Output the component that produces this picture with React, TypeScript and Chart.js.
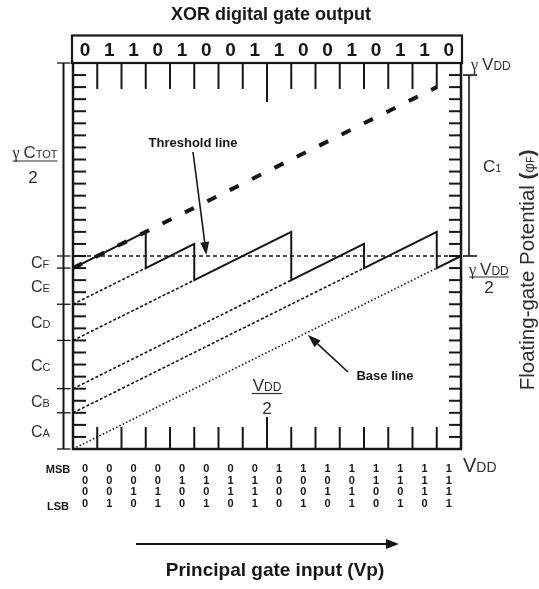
import { useEffect, useRef } from 'react';
import { Chart, registerables } from 'chart.js';

Chart.register(...registerables);

// ---------- data ----------
const X_STEPS = 16; // principal gate input steps (0 .. VDD)
const Y_STEPS = 32; // floating-gate potential steps (0 .. γVDD)
const THRESHOLD = 16; // γVDD/2
const xorOutput = [0, 1, 1, 0, 1, 0, 0, 1, 1, 0, 0, 1, 0, 1, 1, 0];
const bitMSB = [0, 0, 0, 0, 0, 0, 0, 0, 1, 1, 1, 1, 1, 1, 1, 1];
const bit2 = [0, 0, 0, 0, 1, 1, 1, 1, 0, 0, 0, 0, 1, 1, 1, 1];
const bit1 = [0, 0, 1, 1, 0, 0, 1, 1, 0, 0, 1, 1, 0, 0, 1, 1];
const bitLSB = [0, 1, 0, 1, 0, 1, 0, 1, 0, 1, 0, 1, 0, 1, 0, 1];
const bitRows = [bitMSB, bit2, bit1, bitLSB];
const bitRowNames = ['MSB', '', '', 'LSB'];

const capBoundaries = [0, 3, 5, 9, 12, 15, 16, 32];
const capSubscripts = ['A', 'B', 'C', 'D', 'E', 'F'];

const sawX = [0, 3, 3, 5, 5, 9, 9, 12, 12, 15, 15, 16];
const sawY = [15, 18, 15, 17, 14, 18, 14, 17, 15, 18, 15, 16];

const chargeStartY = [3, 5, 9, 12];
const chargeEndX = [12, 9, 5, 3];
const chargeEndY = [15, 14, 14, 15];

const baseLineX = [0, 15];
const baseLineY = [0, 15];

const projectionX = [0, 15];
const projectionY = [15, 30];

const C1_RANGE = [16, 31];
const MID_TICK = 8;

// ---------- helpers ----------
const SANS = '"Liberation Sans", Arial, sans-serif';
const SERIF = '"Liberation Serif", "Times New Roman", serif';
const INK = '#161616';
const SOFT = '#2e2e2e';

type Seg = { t: string; f: string };

function drawRich(ctx: CanvasRenderingContext2D, segs: Seg[], x: number, y: number, align: 'left' | 'center') {
  let w = 0;
  for (const s of segs) {
    ctx.font = s.f;
    w += ctx.measureText(s.t).width;
  }
  let cx = align === 'center' ? x - w / 2 : x;
  const start = cx;
  ctx.textAlign = 'left';
  ctx.textBaseline = 'alphabetic';
  for (const s of segs) {
    ctx.font = s.f;
    ctx.fillText(s.t, cx, y);
    cx += ctx.measureText(s.t).width;
  }
  return { start, end: cx };
}

function line(ctx: CanvasRenderingContext2D, x1: number, y1: number, x2: number, y2: number) {
  ctx.beginPath();
  ctx.moveTo(x1, y1);
  ctx.lineTo(x2, y2);
  ctx.stroke();
}

function arrow(ctx: CanvasRenderingContext2D, x1: number, y1: number, x2: number, y2: number, len = 12, half = 4.5) {
  const a = Math.atan2(y2 - y1, x2 - x1);
  const bx = x2 - len * Math.cos(a);
  const by = y2 - len * Math.sin(a);
  line(ctx, x1, y1, bx, by);
  ctx.beginPath();
  ctx.moveTo(x2, y2);
  ctx.lineTo(bx + half * Math.sin(a), by - half * Math.cos(a));
  ctx.lineTo(bx - half * Math.sin(a), by + half * Math.cos(a));
  ctx.closePath();
  ctx.fill();
}

const pts = (xs: number[], ys: number[]) => xs.map((x, i) => ({ x, y: ys[i] }));

const overlay = {
  id: 'overlay',
  beforeDatasetsDraw(chart: any) {
    const ctx: CanvasRenderingContext2D = chart.ctx;
    const xs = chart.scales.x;
    const ys = chart.scales.y;
    const px = (v: number) => xs.getPixelForValue(v);
    const py = (v: number) => ys.getPixelForValue(v);
    ctx.save();
    ctx.strokeStyle = INK;
    ctx.fillStyle = INK;
    ctx.lineCap = 'butt';

    // ticks
    ctx.lineWidth = 2;
    for (let i = 1; i < Y_STEPS; i++) {
      line(ctx, px(0), py(i), px(0) + 13, py(i));
      line(ctx, px(X_STEPS) - 12, py(i), px(X_STEPS), py(i));
    }
    for (let i = 1; i < X_STEPS; i++) {
      const mid = i === MID_TICK;
      line(ctx, px(i), py(0), px(i), py(0) - (mid ? 32 : 22));
      line(ctx, px(i), py(Y_STEPS), px(i), py(Y_STEPS) + (mid ? 39 : 26));
    }

    // plot frame
    ctx.lineWidth = 2.5;
    ctx.beginPath();
    ctx.moveTo(px(0), py(Y_STEPS));
    ctx.lineTo(px(0), py(0));
    ctx.lineTo(px(X_STEPS), py(0));
    ctx.lineTo(px(X_STEPS), py(Y_STEPS));
    ctx.stroke();

    // digit box
    ctx.lineWidth = 2.2;
    ctx.strokeRect(px(0) - 1, 35.5, px(X_STEPS) - px(0) + 2, py(Y_STEPS) - 35.5);

    // left capacitor bracket
    const bx = px(0) - 9.5;
    ctx.lineWidth = 2;
    line(ctx, bx, py(Y_STEPS), bx, py(0));
    ctx.lineWidth = 1.3;
    for (const b of capBoundaries) line(ctx, bx - 6.5, py(b), bx + 7, py(b));

    // right C1 bracket
    const rx = px(X_STEPS) + 8;
    ctx.lineWidth = 1.6;
    line(ctx, rx, py(C1_RANGE[0]), rx, py(C1_RANGE[1]));
    for (const b of C1_RANGE) line(ctx, rx - 6, py(b), rx + 8, py(b));
    ctx.restore();
  },
  afterDatasetsDraw(chart: any) {
    const ctx: CanvasRenderingContext2D = chart.ctx;
    const xs = chart.scales.x;
    const ys = chart.scales.y;
    const px = (v: number) => xs.getPixelForValue(v);
    const py = (v: number) => ys.getPixelForValue(v);
    ctx.save();
    ctx.fillStyle = INK;
    ctx.strokeStyle = INK;

    // title
    ctx.textAlign = 'center';
    ctx.textBaseline = 'middle';
    ctx.font = `bold 18px ${SANS}`;
    ctx.fillText('XOR digital gate output', 271, 15);

    // XOR output digits
    ctx.font = `bold 19px ${SANS}`;
    xorOutput.forEach((d, i) => ctx.fillText(String(d), px(i + 0.5), 51));

    // input bits
    ctx.font = `bold 11px ${SANS}`;
    const rowY = [469, 481, 492, 504];
    bitRows.forEach((row, r) => {
      row.forEach((b, i) => ctx.fillText(String(b), px(i + 0.5), rowY[r]));
    });
    ctx.font = `bold 11px ${SANS}`;
    ctx.fillText(bitRowNames[0], 58, 470);
    ctx.fillText(bitRowNames[3], 58, 507);

    // bottom arrow + axis title
    ctx.lineWidth = 2;
    arrow(ctx, 136, 544, 399, 544, 13, 5);
    ctx.textAlign = 'center';
    ctx.textBaseline = 'middle';
    ctx.font = `bold 19px ${SANS}`;
    ctx.fillText('Principal gate input (Vp)', 275, 571);

    // annotations
    ctx.font = `bold 13px ${SANS}`;
    ctx.fillText('Threshold line', 193, 143);
    ctx.fillText('Base line', 385, 376);
    ctx.lineWidth = 1.6;
    arrow(ctx, 193, 152, px(5.5), py(THRESHOLD) - 1, 13, 4.5);
    arrow(ctx, 348, 372, 308, 335, 13, 4.5);

    ctx.fillStyle = SOFT;
    ctx.strokeStyle = SOFT;
    // left capacitor labels
    for (let k = 0; k < capSubscripts.length; k++) {
      const mid = (py(capBoundaries[k]) + py(capBoundaries[k + 1])) / 2;
      drawRich(ctx, [
        { t: 'C', f: `16px ${SANS}` },
        { t: capSubscripts[k], f: `11px ${SANS}` },
      ], 31, mid + 6, 'left');
    }
    // γ CTOT / 2
    const ct = drawRich(ctx, [
      { t: 'γ ', f: `16px ${SERIF}` },
      { t: 'C', f: `17px ${SANS}` },
      { t: 'TOT', f: `11px ${SANS}` },
    ], 35, 158, 'center');
    ctx.lineWidth = 1.2;
    line(ctx, ct.start, 161, ct.end, 161);
    ctx.font = `17px ${SANS}`;
    ctx.textAlign = 'center';
    ctx.textBaseline = 'alphabetic';
    ctx.fillText('2', 33, 183);

    // C1
    drawRich(ctx, [
      { t: 'C', f: `17px ${SANS}` },
      { t: '1', f: `11px ${SANS}` },
    ], 483, (py(C1_RANGE[0]) + py(C1_RANGE[1])) / 2 + 6, 'left');

    // γ VDD top right
    drawRich(ctx, [
      { t: 'γ ', f: `16px ${SERIF}` },
      { t: 'V', f: `17px ${SANS}` },
      { t: 'DD', f: `12px ${SANS}` },
    ], 471, py(Y_STEPS) + 7, 'left');

    // γ VDD / 2 right
    const rv = drawRich(ctx, [
      { t: 'γ ', f: `16px ${SERIF}` },
      { t: 'V', f: `17px ${SANS}` },
      { t: 'DD', f: `12px ${SANS}` },
    ], 469, py(THRESHOLD) + 19, 'left');
    line(ctx, rv.start, py(THRESHOLD) + 21, rv.end, py(THRESHOLD) + 21);
    ctx.font = `17px ${SANS}`;
    ctx.textAlign = 'center';
    ctx.fillText('2', (rv.start + rv.end) / 2, py(THRESHOLD) + 37);

    // VDD / 2 mid
    const mv = drawRich(ctx, [
      { t: 'V', f: `17px ${SANS}` },
      { t: 'DD', f: `12px ${SANS}` },
    ], px(MID_TICK), 391, 'center');
    line(ctx, mv.start - 1, 393.5, mv.end + 1, 393.5);
    ctx.font = `17px ${SANS}`;
    ctx.textAlign = 'center';
    ctx.fillText('2', px(MID_TICK), 414);

    // VDD bottom right
    drawRich(ctx, [
      { t: 'V', f: `20px ${SANS}` },
      { t: 'DD', f: `14px ${SANS}` },
    ], 463, 472, 'left');

    // right axis title (rotated)
    ctx.save();
    ctx.translate(534, 270);
    ctx.rotate(-Math.PI / 2);
    drawRich(ctx, [
      { t: 'Floating-gate Potential ', f: `20.5px ${SANS}` },
      { t: '(', f: `bold 20px ${SANS}` },
      { t: 'φ', f: `15px ${SANS}` },
      { t: 'F', f: `11px ${SANS}` },
      { t: ')', f: `bold 20px ${SANS}` },
    ], 0, 0, 'center');
    ctx.restore();

    ctx.restore();
  },
};

export default function App() {
  const ref = useRef<HTMLCanvasElement | null>(null);
  useEffect(() => {
    if (!ref.current) return;
    const common = { pointRadius: 0, showLine: true, clip: false as any, fill: false, borderCapStyle: 'butt' as const };
    const chart = new Chart(ref.current, {
      type: 'scatter',
      data: {
        datasets: [
          { label: 'Floating-gate potential', data: pts(sawX, sawY), borderColor: INK, borderWidth: 2, ...common },
          { label: 'Threshold line', data: [{ x: 0, y: THRESHOLD }, { x: X_STEPS, y: THRESHOLD }], borderColor: INK, borderWidth: 1.6, borderDash: [4, 3], ...common },
          ...chargeStartY.map((y0, i) => ({
            label: `Charge ${i}`,
            data: [{ x: 0, y: y0 }, { x: chargeEndX[i], y: chargeEndY[i] }],
            borderColor: INK, borderWidth: 1.6, borderDash: [3, 2], ...common,
          })),
          { label: 'Base line', data: pts(baseLineX, baseLineY), borderColor: INK, borderWidth: 1.6, borderDash: [1.5, 2.2], ...common },
          { label: 'Projection', data: pts(projectionX, projectionY), borderColor: INK, borderWidth: 4, borderDash: [10, 15], ...common },
        ],
      },
      options: {
        responsive: false,
        devicePixelRatio: 1,
        animation: false,
        layout: { padding: { left: 73, right: 78, top: 63, bottom: 140 } },
        plugins: { legend: { display: false }, tooltip: { enabled: false }, title: { display: false } },
        scales: {
          x: { type: 'linear', min: 0, max: X_STEPS, display: false },
          y: { type: 'linear', min: 0, max: Y_STEPS, display: false },
        },
        events: [],
      },
      plugins: [overlay],
    });
    return () => chart.destroy();
  }, []);
  return (
    <div style={{ position: 'absolute', left: 0, top: 0, width: 539, height: 589, background: '#fff' }}>
      <canvas ref={ref} width={539} height={589} style={{ display: 'block' }} />
    </div>
  );
}
